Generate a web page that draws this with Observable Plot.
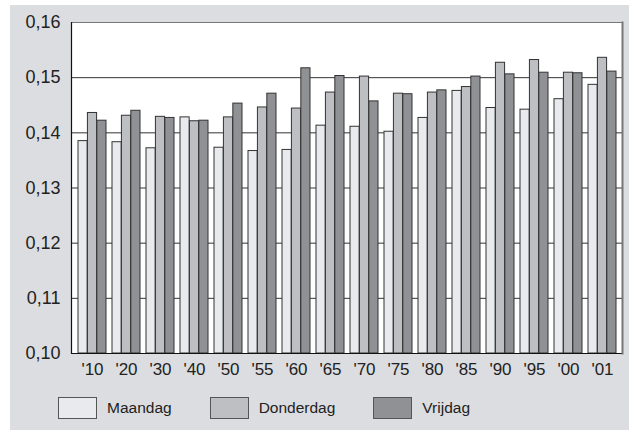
<!DOCTYPE html>
<html><head><meta charset="utf-8">
<script src="https://cdn.jsdelivr.net/npm/d3@7"></script>
<script src="https://cdn.jsdelivr.net/npm/@observablehq/plot@0.6"></script>
<style>
body{margin:0;background:#fff;font-family:"Liberation Sans",Arial,Helvetica,sans-serif;}
#wrap{position:absolute;left:10px;top:5px;width:619px;height:425px;background:#dcdde0;}
#wrap svg{position:absolute;left:0;top:0;}
#legend{position:absolute;left:48px;top:392px;display:flex;align-items:center;gap:38px;font-size:15.5px;color:#222}
.item{display:flex;align-items:center;gap:10px}
.sw{width:37px;height:20px;border:1px solid #555}
</style></head><body><div id="wrap"><div id="legend"></div></div>
<script>
const years = ["'10","'20","'30","'40","'50","'55","'60","'65","'70","'75","'80","'85","'90","'95","'00","'01"];
const maandag   = [0.1385,0.1383,0.1372,0.1428,0.1373,0.1367,0.1369,0.1413,0.1411,0.1402,0.1427,0.1476,0.1445,0.1442,0.1461,0.1487];
const donderdag = [0.1436,0.1431,0.1429,0.1421,0.1428,0.1446,0.1444,0.1473,0.1502,0.1471,0.1473,0.1483,0.1527,0.1532,0.1509,0.1536];
const vrijdag   = [0.1422,0.1440,0.1427,0.1422,0.1453,0.1471,0.1517,0.1503,0.1457,0.1470,0.1477,0.1502,0.1506,0.1509,0.1508,0.1511];
const seriesNames = ["Maandag","Donderdag","Vrijdag"];
const seriesValues = [maandag, donderdag, vrijdag];
const colors = ["#e9eaed","#bebfc2","#8f9194"];
const yTicks = [0.10,0.11,0.12,0.13,0.14,0.15,0.16];
const gridTicks = [0.11,0.12,0.13,0.14,0.15];

const W = 619, H = 384, mL = 61, mR = 7, mT = 17, mB = 36;
const band = d3.scaleBand().domain(years).range([0, W - mL - mR]).paddingInner(0.18).paddingOuter(0.09);
const third = band.bandwidth() / 3;
const fmt = d => d.toFixed(2).replace(".", ",");

const barMarks = seriesValues.map((vals, i) => Plot.barY(years, {
  x: d => d,
  y1: 0.10,
  y2: (d, j) => vals[j],
  fill: colors[i],
  stroke: "#333",
  strokeWidth: 1,
  insetLeft: i * third,
  insetRight: (2 - i) * third
}));

const chart = Plot.plot({
  width: W, height: H,
  marginLeft: mL, marginRight: mR, marginTop: mT, marginBottom: mB,
  style: {fontFamily: "'Liberation Sans', Arial, sans-serif", background: "transparent", color: "#222"},
  x: {type: "band", domain: years, paddingInner: 0.18, paddingOuter: 0.09},
  y: {domain: [0.10, 0.16]},
  marks: [
    Plot.frame({fill: "white", stroke: "#777"}),
    Plot.ruleY(gridTicks, {stroke: "#333", strokeWidth: 1}),
    ...barMarks,
    Plot.ruleY([0.10], {stroke: "#111", strokeWidth: 1.2}),
    Plot.frame({anchor: "left", stroke: "#111", strokeWidth: 1.2}),
    Plot.frame({anchor: "right", stroke: "#777", strokeWidth: 2}),
    Plot.axisY({ticks: yTicks, tickFormat: fmt, tickSize: 0, tickPadding: 11, fontSize: 18, fill: "#222"}),
    Plot.axisX({tickSize: 0, tickPadding: 9, fontSize: 17, fill: "#222"})
  ]
});
document.getElementById("wrap").prepend(chart);

const legend = document.getElementById("legend");
seriesNames.forEach((name, i) => {
  const item = document.createElement("div");
  item.className = "item";
  const sw = document.createElement("div");
  sw.className = "sw";
  sw.style.background = colors[i];
  const label = document.createElement("span");
  label.textContent = name;
  item.append(sw, label);
  legend.append(item);
});
</script></body></html>
